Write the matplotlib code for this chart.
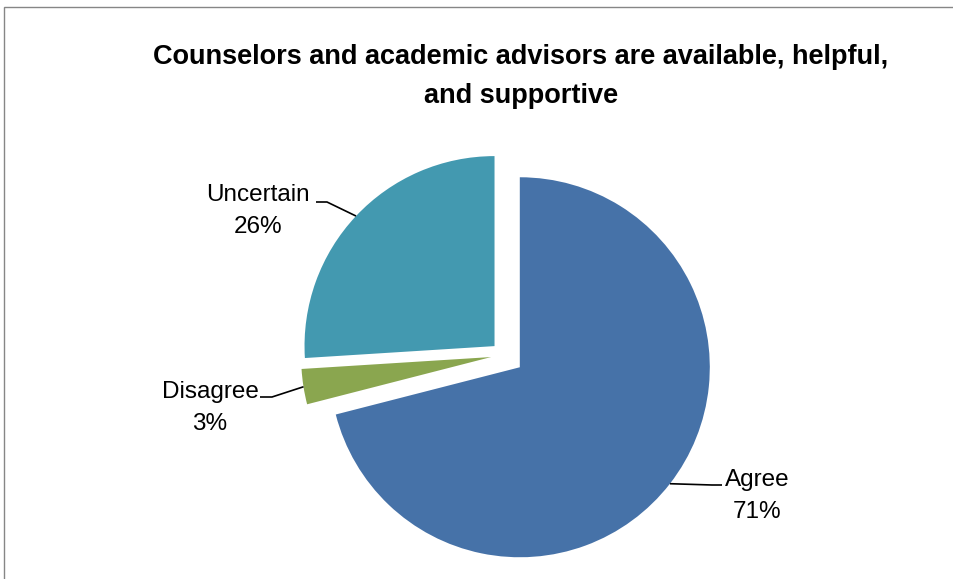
import matplotlib
matplotlib.use("Agg")
import numpy as np
from matplotlib import pyplot as plt
from matplotlib.patches import Rectangle

# data
categories = ["Agree", "Disagree", "Uncertain"]
percents = [71, 3, 26]
colors = ["#4672A8", "#8AA64F", "#4399B0"]
title_lines = ["Counselors and academic advisors are available, helpful,",
               "and supportive"]

plt.rcParams['font.family'] = ['Liberation Sans', 'DejaVu Sans']

W, H = 954, 579
fig = plt.figure(figsize=(W / 100, H / 100), dpi=100)
ax = fig.add_axes([0, 0, 1, 1])
ax.set_xlim(0, W)
ax.set_ylim(0, H)
ax.set_aspect('equal')
ax.axis('off')

# chart frame
ax.add_patch(Rectangle((4.5, -10), W + 20, H - 6.5 + 10, fill=False,
                       edgecolor='#868686', lw=1))

# pie: center / radius in pixels, explode in pixels
center = (504, H - 355)
radius = 190
explode = [20, 13, 13]
wedges, _ = ax.pie(percents, colors=colors, startangle=90, counterclock=False,
                   center=center, radius=radius, explode=explode,
                   wedgeprops=dict(linewidth=0))
ax.set_xlim(0, W)
ax.set_ylim(0, H)

# label positions (text center) and elbow of leader line
label_pos = [(757, H - 496), (210, H - 408), (258, H - 211)]
elbow = [[(712, H - 485), (722, H - 485)],
         [(272, H - 397), (260, H - 397)],
         [(327, H - 202), (316, H - 202)]]

for w, cat, p, lp, el in zip(wedges, categories, percents, label_pos, elbow):
    tm = np.deg2rad((w.theta1 + w.theta2) / 2)
    cx, cy = w.center
    ax_pt = (cx + w.r * np.cos(tm), cy + w.r * np.sin(tm))
    xs = [ax_pt[0]] + [e[0] for e in el]
    ys = [ax_pt[1]] + [e[1] for e in el]
    ax.plot(xs, ys, color='black', lw=1.2, solid_capstyle='butt')
    ax.text(lp[0], lp[1], f"{cat}\n{p}%", ha='center', va='center',
            fontsize=17.5, linespacing=1.6, color='black')

ax.text(521, H - 57, title_lines[0], ha='center', va='center',
        fontsize=19.5, fontweight='bold')
ax.text(521, H - 96, title_lines[1], ha='center', va='center',
        fontsize=19.5, fontweight='bold')

fig.savefig("out.png", dpi=100)
